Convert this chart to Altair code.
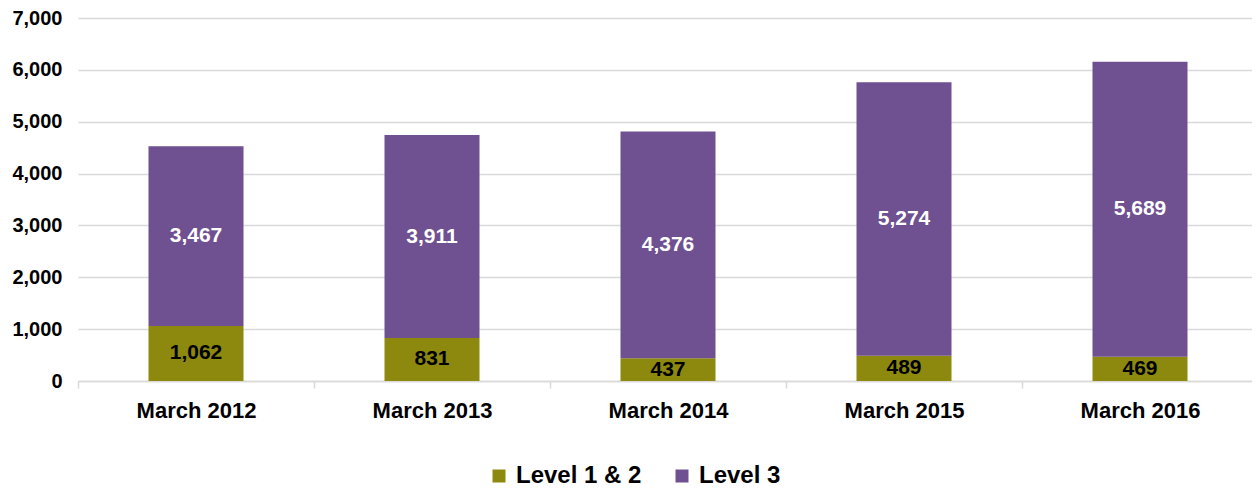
import altair as alt
import pandas as pd

categories = ["March 2012", "March 2013", "March 2014", "March 2015", "March 2016"]
level12 = [1062, 831, 437, 489, 469]
level3 = [3467, 3911, 4376, 5274, 5689]
series = ["Level 1 & 2", "Level 3"]
colors = ["#8C890E", "#6F5091"]
text_colors = ["#000000", "#FFFFFF"]

rows = []
for c, a, b in zip(categories, level12, level3):
    rows.append({"cat": c, "series": series[0], "value": a, "order": 0})
    rows.append({"cat": c, "series": series[1], "value": b, "order": 1})
df = pd.DataFrame(rows)

FONT = "Liberation Sans"

x = alt.X("cat:N", sort=categories, title=None,
          scale=alt.Scale(paddingInner=0, paddingOuter=0, range=[0, 1180]),
          axis=alt.Axis(labelFont=FONT, labelFontSize=22, labelFontWeight="bold",
                        labelColor="#000000", labelPadding=12, labelAngle=0,
                        domainColor="#d9d9d9", domainWidth=1.5,
                        ticks=True, tickBand="extent", tickColor="#d9d9d9",
                        tickWidth=1.5, tickSize=7, grid=False))

y = alt.Y("value:Q", stack="zero", title=None,
          scale=alt.Scale(domain=[0, 7000], nice=False),
          axis=alt.Axis(values=list(range(0, 7001, 1000)), format=",.0f",
                        labelFont=FONT, labelFontSize=20, labelFontWeight="bold",
                        labelColor="#000000", labelPadding=16, domain=False, ticks=False,
                        gridColor="#d9d9d9", gridWidth=1.5))

bars = alt.Chart(df).mark_bar(size=95).encode(
    x=x, y=y,
    color=alt.Color("series:N", scale=alt.Scale(domain=series, range=colors),
                    legend=alt.Legend(title=None, orient="none", direction="horizontal",
                                      legendX=409, legendY=446,
                                      labelFont=FONT, labelFontSize=24, labelFontWeight="bold",
                                      labelColor="#000000", symbolType="square", symbolSize=169,
                                      symbolStrokeWidth=0, labelOffset=5, columnPadding=28,
                                      padding=0)),
    order=alt.Order("order:Q"),
)

labels = alt.Chart(df).transform_stack(
    stack="value", groupby=["cat"], as_=["v0", "v1"], sort=[alt.SortField("order")]
).transform_calculate(
    mid="(datum.v0 + datum.v1) / 2"
).mark_text(font=FONT, fontSize=21, fontWeight="bold", baseline="middle").encode(
    x=alt.X("cat:N", sort=categories),
    y=alt.Y("mid:Q"),
    text=alt.Text("value:Q", format=","),
    color=alt.Color("series:N", scale=alt.Scale(domain=series, range=text_colors), legend=None),
)

chart = alt.layer(bars, labels).resolve_scale(color="independent").properties(
    width=1174, height=363,
    autosize=alt.AutoSizeParams(type="none"),
    padding={"left": 70, "top": 10, "right": 0, "bottom": 107},
).configure_view(stroke=None)

chart.save("out.html", embed_options={"renderer": "svg", "actions": False})
